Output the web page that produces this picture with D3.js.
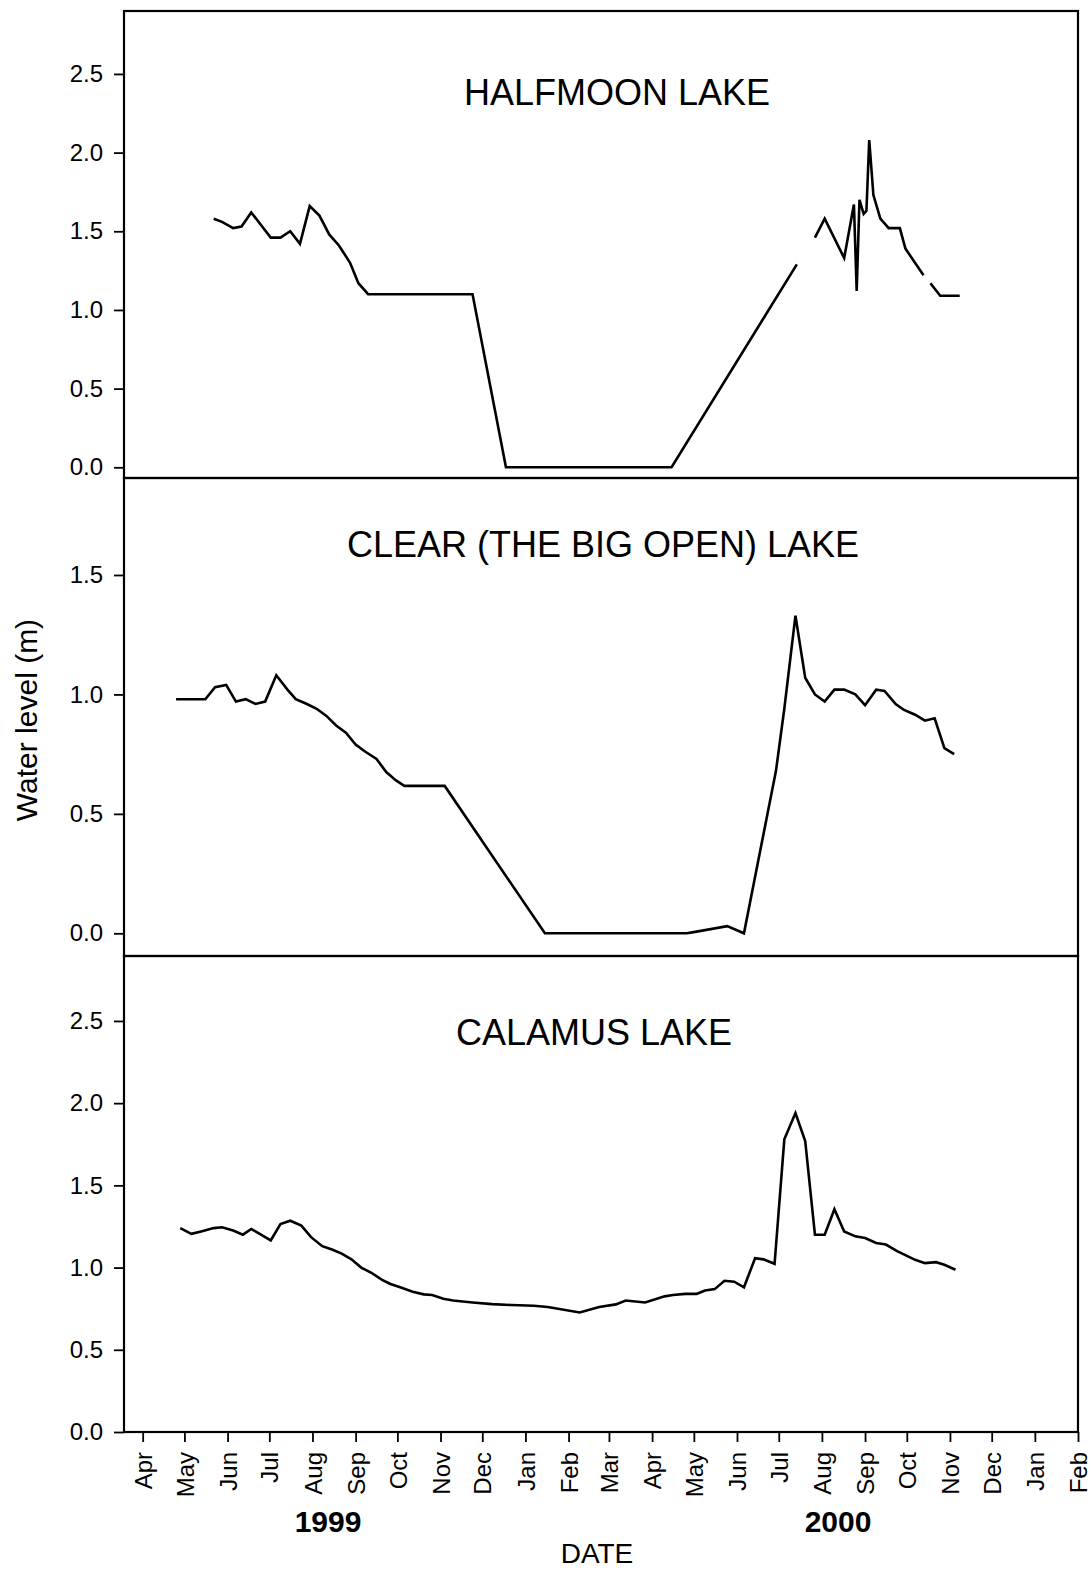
<!DOCTYPE html>
<html>
<head>
<meta charset="utf-8">
<script src="https://cdn.jsdelivr.net/npm/d3@7"></script>
<style>
  body { margin: 0; background: #fff; }
  svg { display: block; }
  text { font-family: "Liberation Sans", Arial, sans-serif; fill: #000; }
</style>
</head>
<body>
<svg id="chart" width="1091" height="1572"></svg>
<script>
// ---- Water level records (m), weekly readings; null marks a missing reading ----
const halfmoonDates = ["1999-05-22","1999-05-28","1999-06-05","1999-06-11","1999-06-18","1999-06-25","1999-07-02","1999-07-09","1999-07-16","1999-07-23",
  "1999-07-30","1999-08-06","1999-08-13","1999-08-20","1999-08-28","1999-09-03","1999-09-10","1999-11-24","1999-12-18","2000-04-15",
  "2000-07-14","2000-07-20","2000-07-27","2000-08-03","2000-08-17","2000-08-24","2000-08-26","2000-08-28","2000-08-31","2000-09-02",
  "2000-09-04","2000-09-07","2000-09-12","2000-09-18","2000-09-26","2000-09-30","2000-10-13","2000-10-15","2000-10-18","2000-10-25",
  "2000-11-08"];
const halfmoonLevels = [1.58,1.56,1.52,1.53,1.62,1.54,1.46,1.46,1.50,1.42,
  1.66,1.60,1.48,1.41,1.30,1.17,1.10,1.10,0.00,0.00,
  1.29,null,1.46,1.58,1.33,1.67,1.12,1.70,1.61,1.63,
  2.08,1.73,1.58,1.52,1.52,1.39,1.22,null,1.17,1.09,
  1.09];

const clearDates = ["1999-04-25","1999-05-16","1999-05-23","1999-05-31","1999-06-07","1999-06-14","1999-06-21","1999-06-28","1999-07-06","1999-07-14",
  "1999-07-20","1999-07-28","1999-08-04","1999-08-11","1999-08-18","1999-08-25","1999-09-01","1999-09-08","1999-09-16","1999-09-23",
  "1999-09-30","1999-10-06","1999-11-04","2000-01-15","2000-04-26","2000-05-03","2000-05-25","2000-06-06","2000-06-29","2000-07-05",
  "2000-07-13","2000-07-20","2000-07-27","2000-08-03","2000-08-10","2000-08-17","2000-08-25","2000-09-01","2000-09-09","2000-09-15",
  "2000-09-23","2000-09-29","2000-10-07","2000-10-14","2000-10-21","2000-10-28","2000-11-04"];
const clearLevels = [0.98,0.98,1.03,1.04,0.97,0.98,0.96,0.97,1.08,1.02,
  0.98,0.96,0.94,0.91,0.87,0.84,0.79,0.76,0.73,0.675,
  0.64,0.617,0.617,0,0,0.007,0.03,0,0.68,0.94,
  1.33,1.07,1.00,0.97,1.02,1.02,1.00,0.955,1.02,1.015,
  0.96,0.935,0.915,0.89,0.90,0.775,0.75];

const calamusDates = ["1999-04-28","1999-05-06","1999-05-13","1999-05-22","1999-05-28","1999-06-05","1999-06-12","1999-06-18","1999-06-25","1999-07-02",
  "1999-07-09","1999-07-16","1999-07-24","1999-07-31","1999-08-08","1999-08-15","1999-08-22","1999-08-29","1999-09-05","1999-09-12",
  "1999-09-20","1999-09-26","1999-10-03","1999-10-12","1999-10-20","1999-10-26","1999-11-03","1999-11-10","1999-11-24","1999-12-08",
  "1999-12-22","2000-01-07","2000-01-17","2000-02-09","2000-02-23","2000-03-06","2000-03-13","2000-03-27","2000-04-10","2000-04-16",
  "2000-04-25","2000-05-03","2000-05-09","2000-05-16","2000-05-23","2000-05-30","2000-06-06","2000-06-14","2000-06-20","2000-06-28",
  "2000-07-05","2000-07-13","2000-07-20","2000-07-27","2000-08-03","2000-08-10","2000-08-17","2000-08-25","2000-09-01","2000-09-09",
  "2000-09-16","2000-09-24","2000-09-30","2000-10-07","2000-10-14","2000-10-22","2000-10-28","2000-11-05"];
const calamusLevels = [1.24,1.205,1.22,1.24,1.245,1.225,1.20,1.235,1.20,1.165,
  1.265,1.285,1.255,1.185,1.13,1.11,1.085,1.05,1.00,0.97,
  0.925,0.90,0.88,0.853,0.837,0.833,0.81,0.80,0.788,0.778,
  0.772,0.768,0.76,0.727,0.76,0.776,0.80,0.788,0.825,0.833,
  0.84,0.84,0.861,0.869,0.92,0.914,0.88,1.057,1.05,1.023,
  1.78,1.94,1.77,1.20,1.20,1.355,1.22,1.19,1.18,1.15,
  1.14,1.10,1.076,1.047,1.027,1.033,1.017,0.987];

// Tick values for each panel's y axis
const halfmoonTicks = [0, 0.5, 1.0, 1.5, 2.0, 2.5];
const clearTicks = [0, 0.5, 1.0, 1.5];
const calamusTicks = [0, 0.5, 1.0, 1.5, 2.0, 2.5];

// Year captions under the month axis
const yearLabels = ["1999", "2000"];

// ---- Layout ----
const svg = d3.select("#chart");
const left = 124, right = 1078;
const parse = d3.timeParse("%Y-%m-%d");

const x = d3.scaleTime()
  .domain([new Date(1999, 2, 18, 14), new Date(2001, 1, 1)])
  .range([left, right]);

const panels = [
  { title: "HALFMOON LAKE", dates: halfmoonDates, levels: halfmoonLevels, ticks: halfmoonTicks,
    top: 11, bottom: 478, domain: [-0.068, 2.90], titleX: 617, titleY: 105 },
  { title: "CLEAR (THE BIG OPEN) LAKE", dates: clearDates, levels: clearLevels, ticks: clearTicks,
    top: 478, bottom: 956, domain: [-0.095, 1.906], titleX: 603, titleY: 557 },
  { title: "CALAMUS LAKE", dates: calamusDates, levels: calamusLevels, ticks: calamusTicks,
    top: 956, bottom: 1432, domain: [0, 2.895], titleX: 594, titleY: 1045 }
];

panels.forEach((p, i) => {
  const y = d3.scaleLinear().domain(p.domain).range([p.bottom, p.top]);
  const g = svg.append("g");

  // y axis ticks and labels
  const ya = g.append("g")
    .attr("transform", `translate(${left},0)`)
    .call(d3.axisLeft(y).tickValues(p.ticks).tickFormat(d3.format(".1f")).tickSize(10).tickPadding(11));
  ya.select(".domain").remove();
  ya.selectAll("line").attr("stroke", "#000").attr("stroke-width", 1.8);
  ya.selectAll("text").style("font-size", "24px").attr("font-family", null);

  // panel frame
  g.append("rect")
    .attr("x", left).attr("y", p.top)
    .attr("width", right - left).attr("height", p.bottom - p.top)
    .attr("fill", "none").attr("stroke", "#000").attr("stroke-width", 2.2);

  // panel title
  g.append("text")
    .attr("x", p.titleX).attr("y", p.titleY)
    .attr("text-anchor", "middle")
    .style("font-size", "36px")
    .text(p.title);

  // water level series
  const pts = p.dates.map((d, k) => ({ date: parse(d), v: p.levels[k] }));
  const line = d3.line()
    .defined(d => d.v !== null)
    .x(d => x(d.date))
    .y(d => y(d.v));
  g.append("path")
    .datum(pts)
    .attr("d", line)
    .attr("fill", "none")
    .attr("stroke", "#000")
    .attr("stroke-width", 2.6)
    .attr("stroke-linejoin", "miter")
    .attr("stroke-miterlimit", 6);

  // month axis on the lowest panel only
  if (i === panels.length - 1) {
    const xa = g.append("g")
      .attr("transform", `translate(0,${p.bottom})`)
      .call(d3.axisBottom(x).ticks(d3.timeMonth.every(1)).tickFormat(d3.timeFormat("%b")).tickSize(10));
    xa.select(".domain").remove();
    xa.selectAll("line").attr("stroke", "#000").attr("stroke-width", 1.8);
    xa.selectAll("text")
      .attr("font-family", null)
      .style("font-size", "24px")
      .attr("text-anchor", "end")
      .attr("transform", "rotate(-90)")
      .attr("x", -20)
      .attr("y", 0)
      .attr("dy", "0.36em");
  }
});

// year captions
const yearX = [328, 838];
svg.selectAll("text.year")
  .data(yearLabels)
  .join("text")
  .attr("class", "year")
  .attr("x", (d, k) => yearX[k])
  .attr("y", 1532)
  .attr("text-anchor", "middle")
  .style("font-size", "30px")
  .style("font-weight", "bold")
  .text(d => d);

// axis titles
svg.append("text")
  .attr("x", 597).attr("y", 1563)
  .attr("text-anchor", "middle")
  .style("font-size", "28px")
  .text("DATE");

svg.append("text")
  .attr("transform", "translate(37,720) rotate(-90)")
  .attr("text-anchor", "middle")
  .style("font-size", "30px")
  .text("Water level (m)");
</script>
</body>
</html>
